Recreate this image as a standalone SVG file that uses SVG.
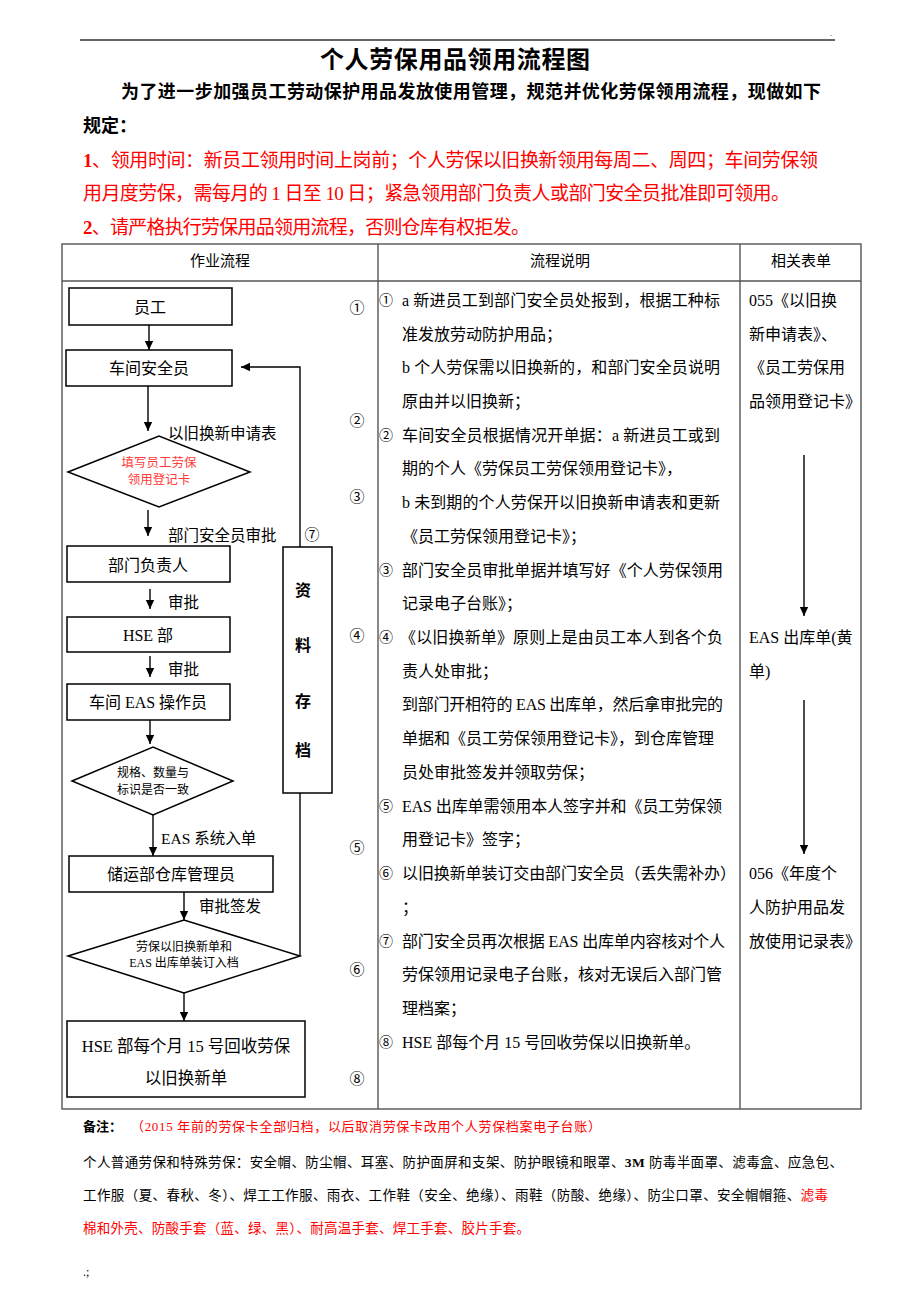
<svg xmlns="http://www.w3.org/2000/svg" width="920" height="1302" viewBox="0 0 920 1302">
<defs>
<marker id="ah" markerWidth="10" markerHeight="10" refX="9" refY="5" orient="auto" markerUnits="userSpaceOnUse">
<path d="M0,0.8 L9,5 L0,9.2 Z" fill="#000"/>
</marker>
<style>
text{font-family:"Liberation Serif","Noto Sans CJK SC",serif;fill:#000;dominant-baseline:central}
.t{font-size:16px}
.c{text-anchor:middle}
.b{font-weight:bold}
.red{fill:#ff0000}
.pink{fill:#ff3b3b}
.box{fill:#fff;stroke:#000;stroke-width:1.5}
.con{fill:none;stroke:#000;stroke-width:1.4}
.tbl{fill:none;stroke:#555;stroke-width:1.4}
.sm{font-size:12px}
.nt{font-size:13.5px}
</style>
</defs>
<rect width="920" height="1302" fill="#fff"/>

<!-- header -->
<g id="header">
<line x1="80" y1="40" x2="835" y2="40" stroke="#666" stroke-width="2.2"/>
<text x="830" y="33" style="font-size:8px">.</text>
<text x="455" y="57" class="c b" style="font-size:24px;font-family:'Noto Sans CJK SC',sans-serif" textLength="270">个人劳保用品领用流程图</text>
<text x="121" y="92" class="b" style="font-size:18px" textLength="700" lengthAdjust="spacing">为了进一步加强员工劳动保护用品发放使用管理，规范并优化劳保领用流程，现做如下</text>
<text x="83" y="126" class="b" style="font-size:18px">规定：</text>
<text x="83" y="160" class="red" style="font-size:19px" textLength="735" lengthAdjust="spacing"><tspan class="b">1</tspan>、领用时间：新员工领用时间上岗前；个人劳保以旧换新领用每周二、周四；车间劳保领</text>
<text x="83" y="193" class="red" style="font-size:19px" textLength="707" lengthAdjust="spacing">用月度劳保，需每月的 1 日至 10 日；紧急领用部门负责人或部门安全员批准即可领用。</text>
<text x="83" y="227" class="red" style="font-size:19px" textLength="447" lengthAdjust="spacing"><tspan class="b">2</tspan>、请严格执行劳保用品领用流程，否则仓库有权拒发。</text>
</g>

<!-- table -->
<g id="table">
<rect x="62" y="244" width="799" height="865" class="tbl"/>
<line x1="62" y1="281" x2="861" y2="281" class="tbl"/>
<line x1="378" y1="244" x2="378" y2="1109" class="tbl"/>
<line x1="740" y1="244" x2="740" y2="1109" class="tbl"/>
<text x="220" y="261" class="t c" style="font-size:15px">作业流程</text>
<text x="560" y="261" class="t c" style="font-size:15px">流程说明</text>
<text x="801" y="261" class="t c" style="font-size:15px">相关表单</text>
</g>

<!-- connectors -->
<g id="connectors">
<line x1="149" y1="325" x2="149" y2="350" class="con" marker-end="url(#ah)"/>
<line x1="148" y1="386" x2="148" y2="431" class="con" marker-end="url(#ah)"/>
<line x1="148" y1="510" x2="148" y2="536" class="con" marker-end="url(#ah)"/>
<line x1="150" y1="589" x2="150" y2="609" class="con" marker-end="url(#ah)"/>
<line x1="150" y1="656" x2="150" y2="677" class="con" marker-end="url(#ah)"/>
<line x1="150" y1="720" x2="150" y2="744" class="con" marker-end="url(#ah)"/>
<line x1="153" y1="815" x2="153" y2="856" class="con" marker-end="url(#ah)"/>
<line x1="184" y1="892" x2="184" y2="920" class="con" marker-end="url(#ah)"/>
<line x1="184" y1="993" x2="184" y2="1021" class="con" marker-end="url(#ah)"/>
<line x1="300" y1="956" x2="300" y2="793" class="con"/>
<polyline points="300,547 300,367 241,367" class="con" marker-end="url(#ah)"/>
<line x1="804" y1="455" x2="804" y2="616" class="con" marker-end="url(#ah)"/>
<line x1="804" y1="700" x2="804" y2="854" class="con" marker-end="url(#ah)"/>
<text x="168" y="433" class="t" style="font-size:15.5px">以旧换新申请表</text>
<text x="168" y="535" class="t" style="font-size:15.5px">部门安全员审批</text>
<text x="168" y="602" class="t" style="font-size:15.5px">审批</text>
<text x="168" y="669" class="t" style="font-size:15.5px">审批</text>
<text x="161" y="838" class="t" style="font-size:15.5px">EAS 系统入单</text>
<text x="199" y="906" class="t" style="font-size:15.5px">审批签发</text>
</g>

<!-- nodes -->
<g id="n-yuangong">
<rect x="69" y="288" width="163" height="37" class="box"/>
<text x="150" y="307" class="t c">员工</text>
</g>
<g id="n-chejian">
<rect x="66" y="350" width="166" height="36" class="box"/>
<text x="149" y="368" class="t c">车间安全员</text>
</g>
<g id="n-tianxie">
<polygon points="68,472 159,436 250,472 159,507" class="box"/>
<text x="159" y="463" class="c pink" style="font-size:12.5px">填写员工劳保</text>
<text x="159" y="480" class="c pink" style="font-size:12.5px">领用登记卡</text>
</g>
<g id="n-bumen">
<rect x="67" y="546" width="163" height="36" class="box"/>
<text x="148" y="565" class="t c">部门负责人</text>
</g>
<g id="n-hse">
<rect x="67" y="617" width="163" height="35" class="box"/>
<text x="148" y="635" class="t c">HSE 部</text>
</g>
<g id="n-eas">
<rect x="67" y="684" width="163" height="36" class="box"/>
<text x="148" y="702" class="t c">车间 EAS 操作员</text>
</g>
<g id="n-guige">
<polygon points="72,781 153,747 233,781 153,815" class="box"/>
<text x="153" y="773" class="c sm">规格、数量与</text>
<text x="153" y="790" class="c sm">标识是否一致</text>
</g>
<g id="n-cangku">
<rect x="69" y="856" width="204" height="36" class="box"/>
<text x="171" y="874" class="t c">储运部仓库管理员</text>
</g>
<g id="n-zhuangding">
<polygon points="68,956 184,920 300,956 184,993" class="box"/>
<text x="184" y="947" class="c sm">劳保以旧换新单和</text>
<text x="184" y="963" class="c sm">EAS 出库单装订入档</text>
</g>
<g id="n-huishou">
<rect x="67" y="1021" width="238" height="76" class="box"/>
<text x="186" y="1046" class="c" style="font-size:16.5px">HSE 部每个月 15 号回收劳保</text>
<text x="186" y="1078" class="c" style="font-size:16.5px">以旧换新单</text>
</g>
<g id="n-cundang">
<rect x="283" y="547" width="49" height="246" class="box"/>
<text x="303" y="590" class="t c b">资</text>
<text x="303" y="645" class="t c b">料</text>
<text x="303" y="701" class="t c b">存</text>
<text x="303" y="750" class="t c b">档</text>
</g>

<!-- step numbers -->
<g id="steps" style="font-size:15px">
<text x="357" y="308" class="c">①</text>
<text x="357" y="421" class="c">②</text>
<text x="357" y="497" class="c">③</text>
<text x="357" y="636" class="c">④</text>
<text x="357" y="848" class="c">⑤</text>
<text x="357" y="970" class="c">⑥</text>
<text x="312" y="535" class="c">⑦</text>
<text x="357" y="1079" class="c">⑧</text>
</g>

<!-- description column -->
<g id="desc" class="t">
<text x="379" y="300" style="font-size:14px">①</text>
<text x="402" y="300" textLength="318" lengthAdjust="spacing">a 新进员工到部门安全员处报到，根据工种标</text>
<text x="402" y="334">准发放劳动防护用品；</text>
<text x="402" y="367" textLength="318" lengthAdjust="spacing">b 个人劳保需以旧换新的，和部门安全员说明</text>
<text x="402" y="401">原由并以旧换新；</text>
<text x="379" y="435" style="font-size:14px">②</text>
<text x="402" y="435" textLength="318" lengthAdjust="spacing">车间安全员根据情况开单据：a 新进员工或到</text>
<text x="402" y="468">期的个人《劳保员工劳保领用登记卡》，</text>
<text x="402" y="502" textLength="318" lengthAdjust="spacing">b 未到期的个人劳保开以旧换新申请表和更新</text>
<text x="402" y="536">《员工劳保领用登记卡》；</text>
<text x="379" y="570" style="font-size:14px">③</text>
<text x="402" y="570" textLength="321" lengthAdjust="spacing">部门安全员审批单据并填写好《个人劳保领用</text>
<text x="402" y="603">记录电子台账》；</text>
<text x="379" y="637" style="font-size:14px">④</text>
<text x="400" y="637" textLength="323" lengthAdjust="spacing">《以旧换新单》原则上是由员工本人到各个负</text>
<text x="402" y="671">责人处审批；</text>
<text x="402" y="704" textLength="321" lengthAdjust="spacing">到部门开相符的 EAS 出库单，然后拿审批完的</text>
<text x="402" y="738">单据和《员工劳保领用登记卡》，到仓库管理</text>
<text x="402" y="772">员处审批签发并领取劳保；</text>
<text x="379" y="806" style="font-size:14px">⑤</text>
<text x="402" y="806" textLength="320" lengthAdjust="spacing">EAS 出库单需领用本人签字并和《员工劳保领</text>
<text x="402" y="839">用登记卡》签字；</text>
<text x="379" y="873" style="font-size:14px">⑥</text>
<text x="402" y="873" textLength="334" lengthAdjust="spacing">以旧换新单装订交由部门安全员（丢失需补办）</text>
<text x="402" y="907">；</text>
<text x="379" y="941" style="font-size:14px">⑦</text>
<text x="402" y="941" textLength="323" lengthAdjust="spacing">部门安全员再次根据 EAS 出库单内容核对个人</text>
<text x="402" y="974">劳保领用记录电子台账，核对无误后入部门管</text>
<text x="402" y="1008">理档案；</text>
<text x="379" y="1042" style="font-size:14px">⑧</text>
<text x="402" y="1042">HSE 部每个月 15 号回收劳保以旧换新单。</text>
</g>

<!-- forms column -->
<g id="forms" class="t">
<text x="749" y="300">055《以旧换</text>
<text x="749" y="334">新申请表》、</text>
<text x="749" y="367">《员工劳保用</text>
<text x="749" y="401">品领用登记卡》</text>
<text x="749" y="637">EAS 出库单(黄</text>
<text x="749" y="671">单)</text>
<text x="749" y="873">056《年度个</text>
<text x="749" y="907">人防护用品发</text>
<text x="749" y="941">放使用记录表》</text>
</g>

<!-- notes -->
<g id="notes">
<text x="83" y="1126" class="b" style="font-size:13px">备注：</text>
<text x="131" y="1126" class="red" style="font-size:13px" textLength="470" lengthAdjust="spacing">（2015 年前的劳保卡全部归档，以后取消劳保卡改用个人劳保档案电子台账）</text>
<text x="83" y="1162" class="nt" textLength="760" lengthAdjust="spacing">个人普通劳保和特殊劳保：安全帽、防尘帽、耳塞、防护面屏和支架、防护眼镜和眼罩、<tspan class="b">3M</tspan> 防毒半面罩、滤毒盒、应急包、</text>
<text x="83" y="1195" class="nt" textLength="745" lengthAdjust="spacing">工作服（夏、春秋、冬）、焊工工作服、雨衣、工作鞋（安全、绝缘）、雨鞋（防酸、绝缘）、防尘口罩、安全帽帽箍、<tspan class="red">滤毒</tspan></text>
<text x="83" y="1228" class="nt red" textLength="447" lengthAdjust="spacing">棉和外壳、防酸手套（蓝、绿、黑）、耐高温手套、焊工手套、胶片手套。</text>
<text x="83" y="1272" style="font-size:12px">.;</text>
</g>
</svg>
